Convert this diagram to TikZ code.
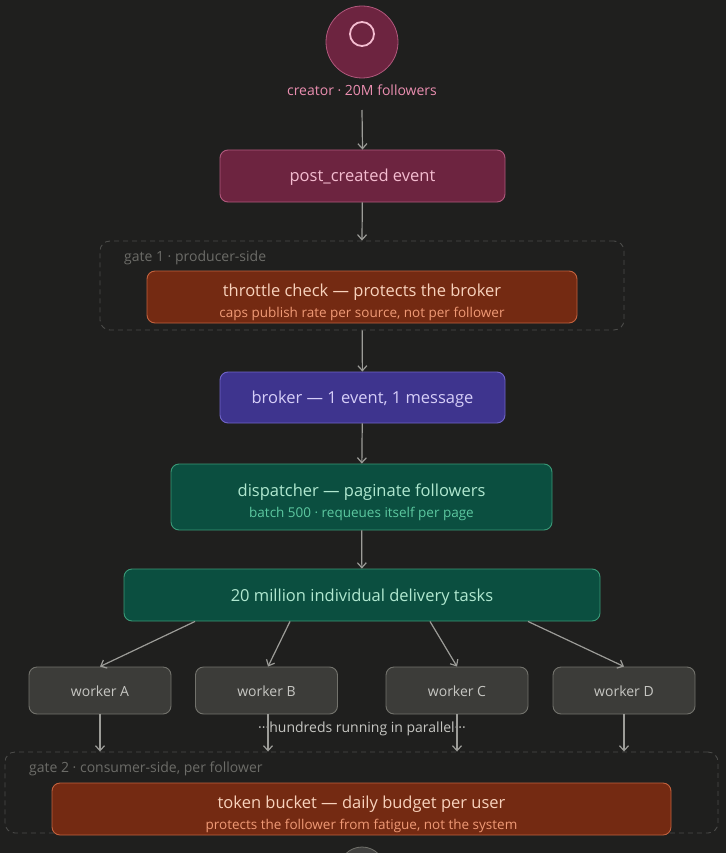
\documentclass[tikz,border=0pt]{standalone}
\usepackage{fontspec}
\setmainfont{Open Sans}
\usepackage{tikz}
\usetikzlibrary{positioning,arrows.meta,calc}
\usepackage{xcolor}

\definecolor{bgc}{HTML}{1F1F1E}
\definecolor{plumfill}{HTML}{6D2440}
\definecolor{plumline}{HTML}{B0587C}
\definecolor{plumtext}{HTML}{F4BCD0}
\definecolor{plumlabel}{HTML}{EA8EB0}
\definecolor{rustfill}{HTML}{742A12}
\definecolor{rustline}{HTML}{C2623E}
\definecolor{rusttext}{HTML}{F8D2BC}
\definecolor{rustsub}{HTML}{F09A76}
\definecolor{indigofill}{HTML}{3E348E}
\definecolor{indigoline}{HTML}{7064C8}
\definecolor{indigotext}{HTML}{D6CEF8}
\definecolor{tealfill}{HTML}{0B4F40}
\definecolor{tealline}{HTML}{3A9A78}
\definecolor{tealtext}{HTML}{B0E8D0}
\definecolor{tealsub}{HTML}{5CC8A0}
\definecolor{workfill}{HTML}{3C3C39}
\definecolor{workline}{HTML}{72726C}
\definecolor{worktext}{HTML}{C6C6C2}
\definecolor{arrowc}{HTML}{9C9C98}
\definecolor{gateline}{HTML}{4C4C4A}
\definecolor{gatetext}{HTML}{6C6C68}

\newcommand{\subline}[2]{{\fontsize{13.5}{15}\selectfont\color{#1}#2}}

\begin{document}
\begin{tikzpicture}[x=1pt, y=-1pt,
    flow/.style={-{Straight Barb[length=5pt,width=9pt]}, draw=arrowc, line width=1.2pt},
    card/.style={rounded corners=8pt, line width=0.9pt, align=center, inner sep=0pt,
        font=\fontsize{16.5}{21}\selectfont},
    oneline/.style={text height=12pt, text depth=0pt},
    twoline/.style={execute at begin node={\rule{0pt}{44pt}}},
    plumcard/.style={card, oneline, fill=plumfill, draw=plumline, text=plumtext},
    rustcard/.style={card, twoline, fill=rustfill, draw=rustline, text=rusttext},
    indigocard/.style={card, oneline, fill=indigofill, draw=indigoline, text=indigotext},
    tealcard/.style={card, fill=tealfill, draw=tealline, text=tealtext},
    workcard/.style={card, oneline, fill=workfill, draw=workline, text=worktext,
        minimum width=142pt, minimum height=47pt, font=\fontsize{14}{16}\selectfont},
    gate/.style={draw=gateline, dashed, dash pattern=on 5pt off 4pt, line width=0.9pt,
        rounded corners=10pt, inner sep=0pt},
    gatelabel/.style={text=gatetext, anchor=west, inner sep=0pt, font=\fontsize{14}{15}\selectfont}]

    % --- CANVAS ---
    \useasboundingbox (0,0) rectangle (726,853);
    \fill[bgc] (0,0) rectangle (726,853);
    \clip (0,0) rectangle (726,853);

    % --- CREATOR ---
    \node[circle, fill=plumfill, draw=plumline, line width=0.8pt, minimum size=72pt,
        inner sep=0pt] (creator) at (362,42) {};
    \draw[draw=plumtext, line width=1.8pt] (362,34) circle (12pt);
    \node[text=plumlabel, font=\fontsize{14}{16}\selectfont, inner sep=0pt]
        (creatorlabel) at (362,90) {creator · 20M followers};

    % post_created event
    \node[plumcard, minimum width=285pt, minimum height=52pt] (post) at (362.5,176)
        {post\_created event};

    % --- GATE 1 ---
    \node[gate, minimum width=524pt, minimum height=89pt] (gate1) at (362,285.5) {};
    \node[gatelabel] (gate1label) at (124,258) {gate 1 · producer-side};
    \node[rustcard, minimum width=430pt, minimum height=52pt] (throttle) at (362,297)
        {throttle check — protects the broker\\
         \subline{rustsub}{caps publish rate per source, not per follower}};

    % broker
    \node[indigocard, minimum width=285pt, minimum height=51pt] (broker) at (362.5,397.5)
        {broker — 1 event, 1 message};

    % dispatcher
    \node[tealcard, twoline, minimum width=381pt, minimum height=66pt] (dispatch) at (361.5,497)
        {dispatcher — paginate followers\\
         \subline{tealsub}{batch 500 · requeues itself per page}};

    % delivery tasks
    \node[tealcard, oneline, minimum width=476pt, minimum height=52pt] (tasks) at (362,595)
        {20 million individual delivery tasks};

    % --- WORKERS ---
    \node[workcard] (wA) at (100,690.5) {worker A};
    \node[workcard] (wB) at (266.5,690.5) {worker B};
    \node[workcard] (wC) at (457,690.5) {worker C};
    \node[workcard] (wD) at (624,690.5) {worker D};

    \node[text=worktext, font=\fontsize{14}{15}\selectfont, inner sep=0pt] (parallel)
        at (362,729) {···hundreds running in parallel···};

    % --- GATE 2 ---
    \node[gate, minimum width=713pt, minimum height=81pt] (gate2) at (361.5,792.5) {};
    \node[gatelabel] (gate2label) at (29,769) {gate 2 · consumer-side, per follower};
    \node[rustcard, minimum width=619pt, minimum height=52pt] (bucket) at (361.5,809)
        {token bucket — daily budget per user\\
         \subline{rustsub}{protects the follower from fatigue, not the system}};

    % next step, cut off at the bottom edge
    \node[circle, fill=bgc!85!white, draw=workline, line width=0.8pt, minimum size=46pt,
        inner sep=0pt] (nextstep) at (362,870) {};

    % --- CONNECTORS ---
    \coordinate (creatorout) at (362,110);
    \draw[flow] (creatorout) -- (post.north);
    \draw[flow] (post) -- (gate1.north);
    \draw[flow] (gate1) -- (broker);
    \draw[flow] (broker) -- (dispatch);
    \draw[flow] (dispatch) -- (tasks);

    \draw[flow] ([xshift=-167pt]tasks.south) -- (wA.north);
    \draw[flow] ([xshift=-72pt]tasks.south) -- ([xshift=1.5pt]wB.north);
    \draw[flow] ([xshift=68pt]tasks.south) -- (wC.north);
    \draw[flow] ([xshift=166pt]tasks.south) -- (wD.north);

    \foreach \w in {wA, wC, wD}
        \draw[flow] (\w.south) -- (\w.south |- gate2.north);
    \draw[flow] ([xshift=1.5pt]wB.south) -- ([xshift=1.5pt]wB.south |- gate2.north);

\end{tikzpicture}
\end{document}
